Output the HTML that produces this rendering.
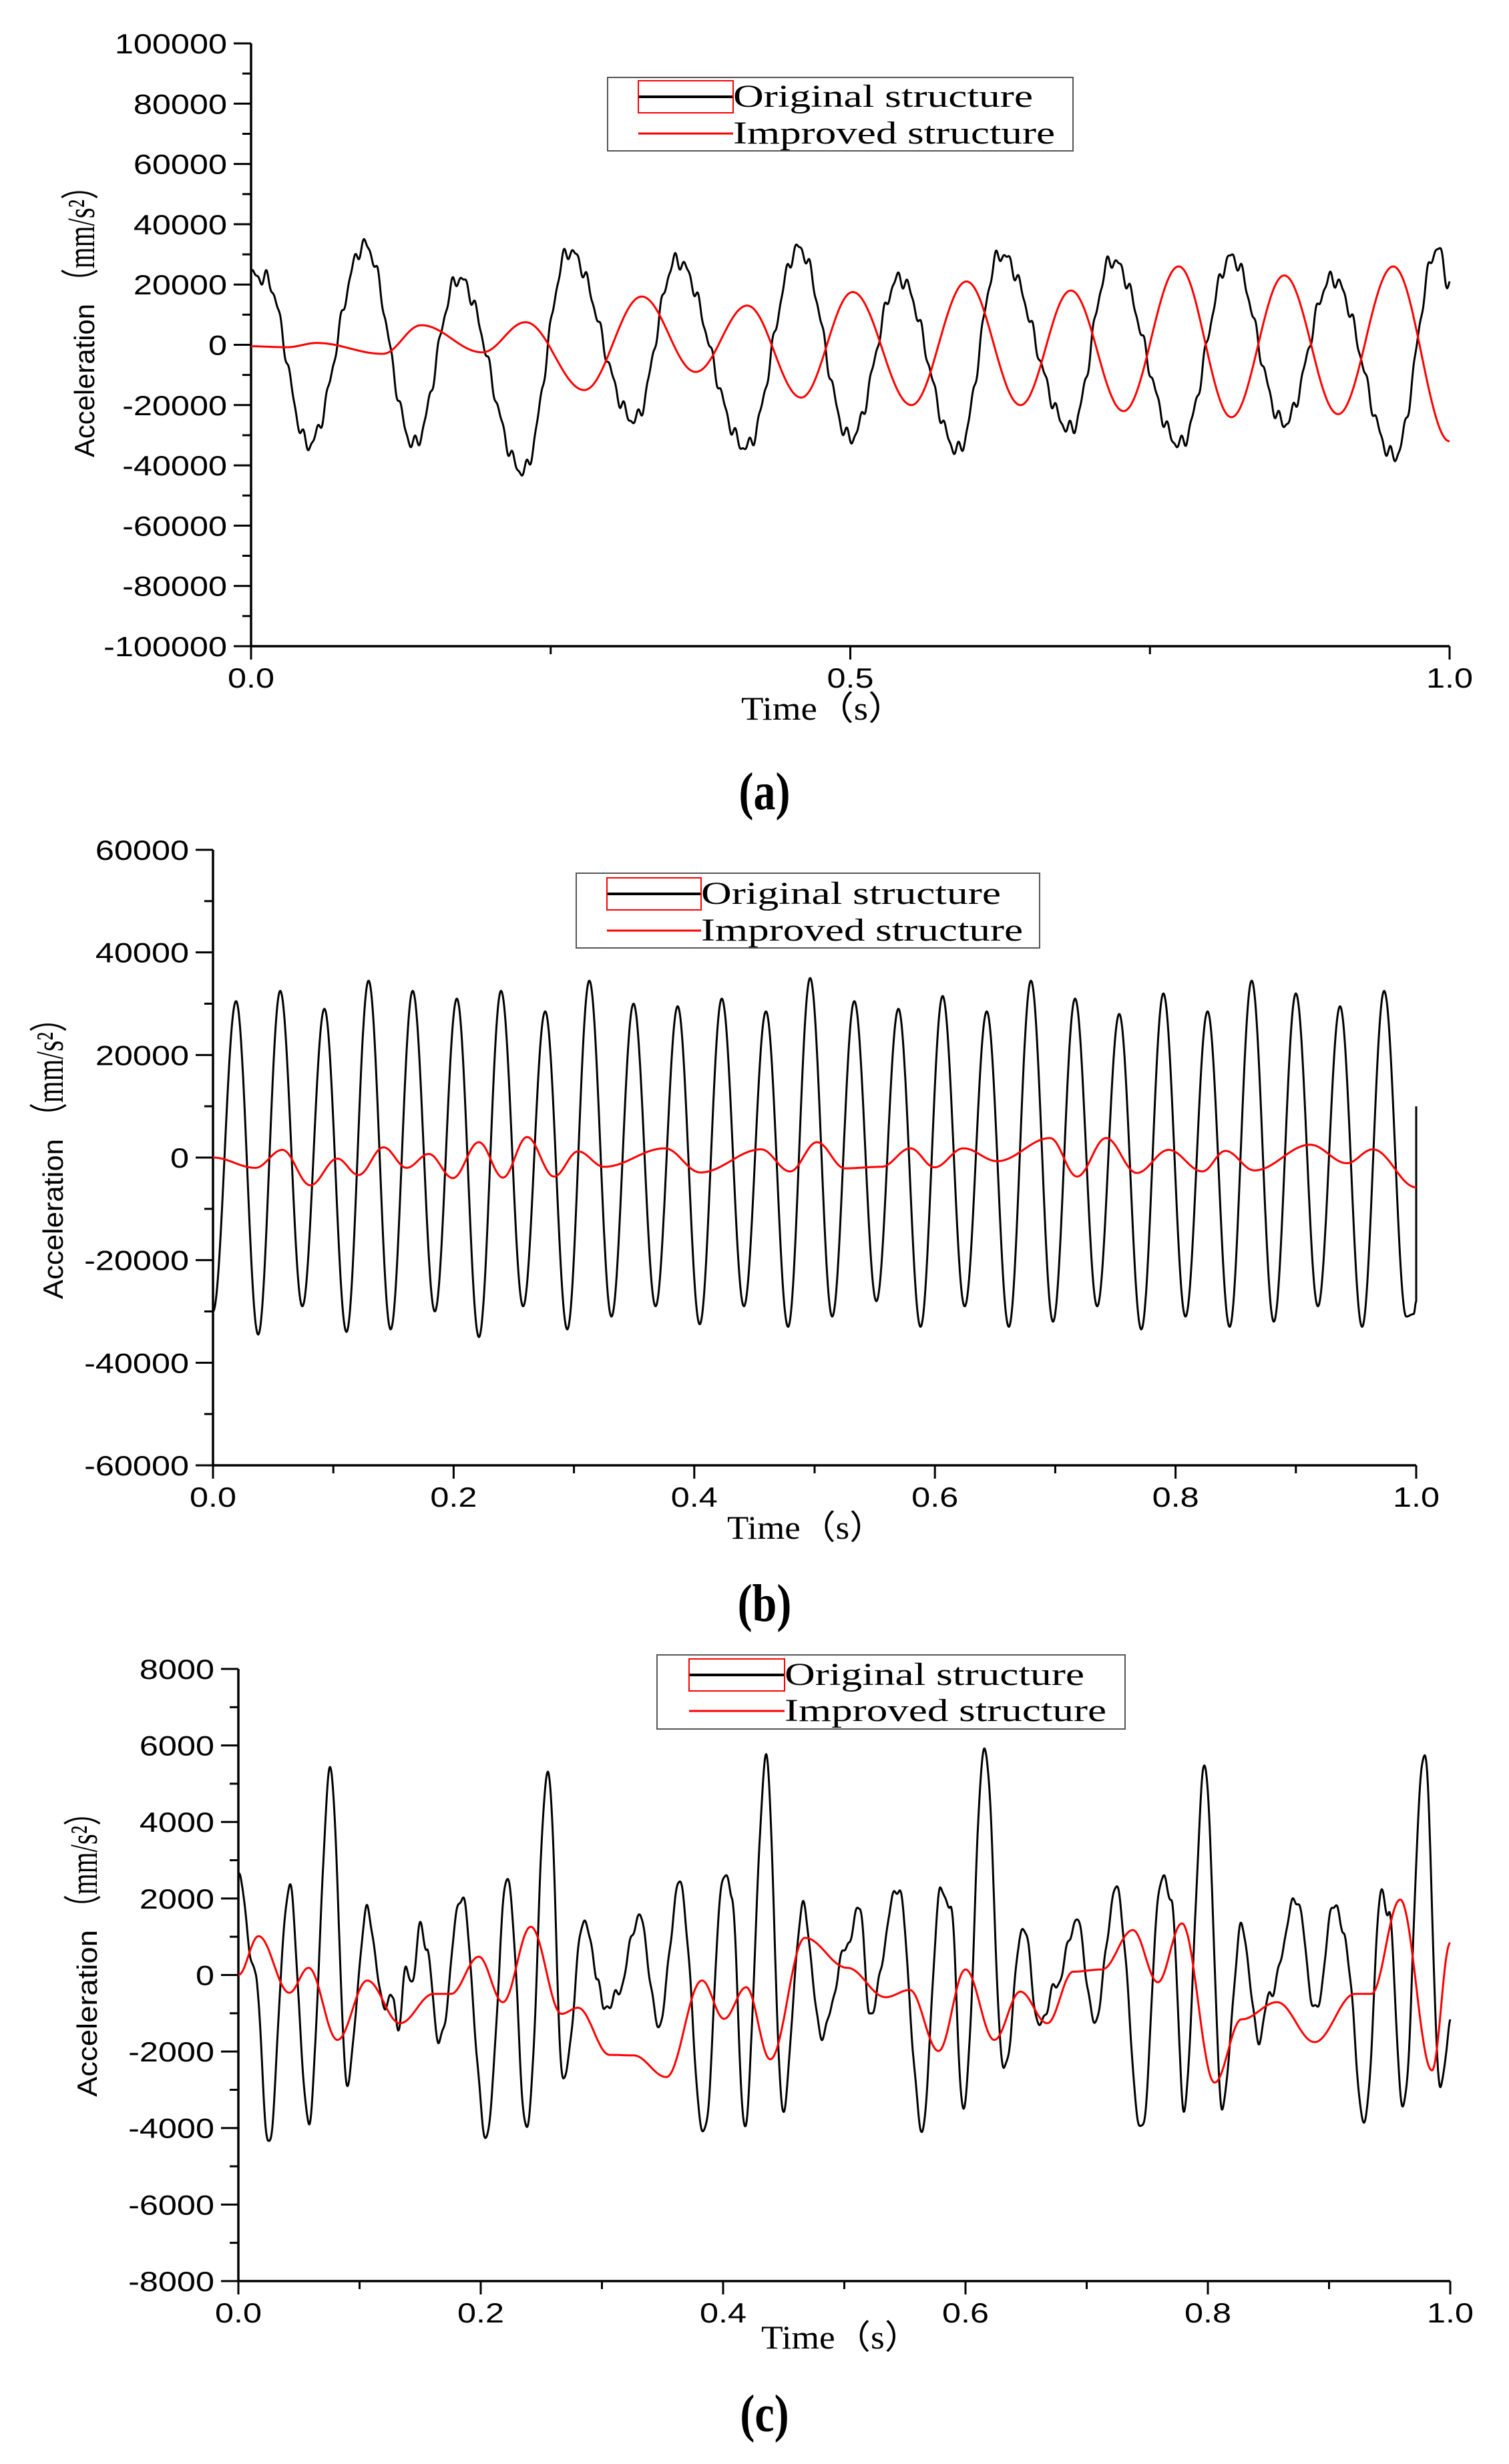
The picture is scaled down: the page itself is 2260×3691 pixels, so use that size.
<!DOCTYPE html>
<html><head><meta charset="utf-8">
<style>
html,body{margin:0;padding:0;background:#fff;}
svg{display:block;}
.tk{font-family:"Liberation Sans",sans-serif;font-size:42px;fill:#000;}
.sf{font-family:"Liberation Serif",serif;fill:#000;}
</style></head>
<body>
<svg id="s" xmlns="http://www.w3.org/2000/svg" width="2260" height="3691" viewBox="0 0 2260 3691">
<rect width="2260" height="3691" fill="#fff"/>
</svg>
<script>
var S=document.getElementById('s');var NS='http://www.w3.org/2000/svg';
function el(n,a,txt){var e=document.createElementNS(NS,n);for(var k in a)e.setAttribute(k,a[k]);if(txt!==undefined)e.textContent=txt;S.appendChild(e);return e;}
function interp(ext,t){for(var i=0;i<ext.length-1;i++){if(t<=ext[i+1][0]){var a=ext[i],b=ext[i+1];var u=(t-a[0])/(b[0]-a[0]||1);var w=(1-Math.cos(Math.PI*u))/2;return a[1]+(b[1]-a[1])*w;}}return ext[ext.length-1][1];}
function sx(x,y,f){return 'translate('+x+','+y+') scale('+f+',1) translate('+(-x)+','+(-y)+')';}
function chart(c){
 var X=function(t){return c.x0+(c.x1-c.x0)*t;};
 var Y=function(v){return c.y1-(v-c.vmin)/(c.vmax-c.vmin)*(c.y1-c.y0);};
 el('line',{x1:c.x0,y1:c.y0,x2:c.x0,y2:c.y1,stroke:'#000','stroke-width':3.5});
 el('line',{x1:c.x0,y1:c.y1,x2:c.x1,y2:c.y1,stroke:'#000','stroke-width':3.5});
 for(var v=c.vmin;v<=c.vmax+1e-6;v+=c.minor){var major=Math.abs(Math.round(v/c.major)*c.major-v)<1e-6;var y=Y(v);
  el('line',{x1:c.x0-(major?26:13),y1:y,x2:c.x0,y2:y,stroke:'#000','stroke-width':3});
  if(major){var ax=c.x0-36;el('text',{x:ax,y:y+15,'text-anchor':'end',class:'tk',transform:sx(ax,y,1.2)},String(v));}}
 for(var i=0;i<c.xt.length;i++){var t=c.xt[i][0],x=X(t);el('line',{x1:x,y1:c.y1,x2:x,y2:c.y1+(c.xt[i][1]?20:12),stroke:'#000','stroke-width':3});
  if(c.xt[i][1])el('text',{x:x,y:c.y1+62,'text-anchor':'middle',class:'tk',transform:sx(x,0,1.2)},c.xt[i][1]);}
 el('line',{x1:c.x1,y1:c.y1,x2:c.x1,y2:c.y1+20,stroke:'#000','stroke-width':3});
 function path(ext,rip,col){var d='';for(var k=0;k<=2000;k++){var t=k/2000;var v=interp(ext,t);if(rip)v+=rip*(Math.sin(2*Math.PI*97*t)+0.6*Math.sin(2*Math.PI*161*t+1.3));d+=(k?'L':'M')+X(t).toFixed(1)+' '+Y(v).toFixed(1);}
  if(c.endv!==undefined&&col=='#000')d+='L'+X(1).toFixed(1)+' '+Y(c.endv).toFixed(1);
  el('path',{d:d,fill:'none',stroke:col,'stroke-width':3,'stroke-linejoin':'round'});}
 path(c.black,c.rip,'#000');path(c.red,0,'#f00');
 var L=c.leg;el('rect',{x:L.x,y:L.y,width:L.w,height:L.h,fill:'#fff',stroke:'#555','stroke-width':2});
 el('line',{x1:L.lx0,y1:L.r1,x2:L.lx1,y2:L.r1,stroke:'#000','stroke-width':4});
 el('rect',{x:L.lx0,y:L.r1-24,width:L.lx1-L.lx0,height:48,fill:'none',stroke:'#f00','stroke-width':2});
 el('line',{x1:L.lx0,y1:L.r2,x2:L.lx1,y2:L.r2,stroke:'#f00','stroke-width':3});
 el('text',{x:L.lx1,y:L.r1+15,class:'sf','font-size':48,textLength:449,lengthAdjust:'spacingAndGlyphs'},'Original structure');
 el('text',{x:L.lx1,y:L.r2+15,class:'sf','font-size':48,textLength:482,lengthAdjust:'spacingAndGlyphs'},'Improved structure');
 el('text',{x:c.tx0,y:c.ty,class:'sf','font-size':50,textLength:c.tx1-c.tx0,lengthAdjust:'spacingAndGlyphs'},'Time（s）');
 var g=document.createElementNS(NS,'g');g.setAttribute('transform','translate('+(c.yx+18)+','+c.yb+') rotate(-90)');S.appendChild(g);
 var t1=document.createElementNS(NS,'text');t1.setAttribute('class','tk');t1.setAttribute('font-size','54');t1.setAttribute('x','0');t1.setAttribute('y','0');t1.setAttribute('textLength',c.yl1);t1.setAttribute('lengthAdjust','spacingAndGlyphs');t1.textContent='Acceleration';g.appendChild(t1);
 var t2=document.createElementNS(NS,'text');t2.setAttribute('class','sf');t2.setAttribute('font-size','58');t2.setAttribute('x',c.yl1+12);t2.setAttribute('y','0');t2.setAttribute('textLength',c.yl2);t2.setAttribute('lengthAdjust','spacingAndGlyphs');t2.textContent='（mm/s²）';g.appendChild(t2);
 el('text',{x:1145,y:c.cap,'text-anchor':'middle',class:'sf','font-size':66,'font-weight':'bold',transform:'translate(1145,'+c.cap+') scale(1,1.2) translate(-1145,'+(-c.cap)+')'},c.lab);
}
function fx(arr,x0,w,y0,ppu){return arr.map(function(p){return [(p[0]-x0)/w,(y0-p[1])*ppu];});}

chart({x0:376,x1:2171,y0:65,y1:968,vmin:-100000,vmax:100000,major:20000,minor:10000,
 xt:[[0,'0.0'],[0.25,''],[0.5,'0.5'],[0.75,''],[1,'1.0']],
 black:[[0,23000],[0.012,22000],[0.048,-33000],[0.095,33000],[0.136,-33000],[0.173,22000],[0.227,-42000],[0.265,31000],[0.32,-25000],[0.355,28000],[0.413,-34000],[0.457,32000],[0.5,-31000],[0.541,22000],[0.59,-35000],[0.625,30000],[0.684,-28000],[0.718,28000],[0.775,-33000],[0.818,29000],[0.862,-26000],[0.902,22000],[0.954,-37000],[0.99,32000],[1.0,20000]],
 rip:1800,
 red:[[0,-500],[0.03,-800],[0.055,600],[0.11,-3000],[0.142,6500],[0.193,-2500],[0.229,7500],[0.278,-15000],[0.326,16000],[0.371,-9000],[0.414,13000],[0.459,-17500],[0.502,17500],[0.551,-20000],[0.597,21000],[0.642,-20000],[0.684,18000],[0.728,-22000],[0.774,26000],[0.818,-24000],[0.862,23000],[0.907,-23000],[0.953,26000],[1.0,-32000]],
 leg:{x:910,y:116,w:697,h:110,lx0:956,lx1:1098,r1:145,r2:200},
 tx0:1110,tx1:1355,ty:1078,yx:123,yb:685,yl1:230,yl2:185,cap:1212,lab:'(a)'});

(function(){
 var pk=[30500,32500,29000,34500,32500,31000,32500,28500,34500,30000,29500,31000,28500,35000,30500,29000,31500,28500,34500,31000,28000,32000,28500,34500,32000,29500,32500];
 var tr=[-34500,-29000,-34000,-33500,-30000,-35000,-29000,-33500,-31000,-29000,-32500,-29000,-33000,-31000,-28000,-33000,-29000,-33000,-32000,-29000,-33500,-31000,-33000,-32000,-29000,-33000,-31000];
 var P=0.0367,t0=0.0192,b=[[0,-30000]];
 for(var i=0;i<27;i++){b.push([t0+i*P,pk[i]]);var tt=t0+i*P+P/2;if(tt<0.998)b.push([tt,tr[i]]);}
 b.push([0.998,-30500]);b.push([1,-28000]);
 var r=[[221,698],[265,718],[293,683],[322,752],[350,700],[372,732],[398,678],[422,718],[445,691],[470,738],[497,668],[522,737],[547,658],[575,735],[600,686],[627,716],[690,680],[727,727],[790,682],[820,725],[848,668],[877,719],[915,716],[945,680],[970,717],[1000,680],[1035,705],[1090,660],[1118,735],[1148,660],[1180,728],[1213,683],[1248,725],[1272,685],[1302,723],[1360,673],[1398,709],[1425,682],[1470,756]];
 chart({x0:319,x1:2121,y0:1273,y1:2195,vmin:-60000,vmax:60000,major:20000,minor:10000,
 xt:[[0,'0.0'],[0.1,''],[0.2,'0.2'],[0.3,''],[0.4,'0.4'],[0.5,''],[0.6,'0.6'],[0.7,''],[0.8,'0.8'],[0.9,''],[1,'1.0']],
 black:b,rip:0,endv:10000,red:fx(r,221,1249,698,100),
 leg:{x:863,y:1308,w:694,h:112,lx0:909,lx1:1050,r1:1339,r2:1394},
 tx0:1089,tx1:1325,ty:2305,yx:76,yb:1946,yl1:240,yl2:190,cap:2428,lab:'(b)'});
})();

(function(){
 var b=[[247,500],[265,680],[278,985],[300,520],[320,940],[343,310],[360,868],[381,562],[398,730],[408,720],[413,773],[422,665],[428,690],[437,580],[443,640],[456,800],[479,535],[505,968],[527,502],[547,955],[569,308],[585,868],[607,577],[620,676],[627,742],[640,715],[664,573],[684,768],[706,512],[731,966],[752,493],[760,535],[773,950],[796,290],[813,918],[834,555],[853,785],[882,618],[893,548],[903,748],[933,520],[958,955],[977,527],[987,550],[1001,920],[1023,266],[1043,850],[1063,590],[1080,770],[1096,700],[1119,580],[1137,762],[1160,522],[1186,960],[1207,500],[1217,540],[1230,915],[1252,304],[1270,912],[1290,592],[1308,793],[1320,710],[1347,540],[1367,743],[1387,545],[1396,605],[1418,945],[1436,525],[1443,570],[1458,920],[1480,275],[1497,885],[1507,762]];
 var r=[[247,678],[268,608],[300,710],[320,665],[350,795],[381,688],[415,765],[450,712],[468,712],[497,645],[522,727],[551,591],[583,748],[600,737],[633,822],[658,823],[692,862],[729,688],[752,757],[775,700],[800,830],[836,611],[880,665],[920,718],[945,705],[975,815],[1003,668],[1033,795],[1060,708],[1088,765],[1115,672],[1145,668],[1177,597],[1203,691],[1228,585],[1262,872],[1290,758],[1327,727],[1366,799],[1408,712],[1425,712],[1455,542],[1488,850],[1507,620]];
 chart({x0:357,x1:2172,y0:2500,y1:3417,vmin:-8000,vmax:8000,major:2000,minor:1000,
 xt:[[0,'0.0'],[0.1,''],[0.2,'0.2'],[0.3,''],[0.4,'0.4'],[0.5,''],[0.6,'0.6'],[0.7,''],[0.8,'0.8'],[0.9,''],[1,'1.0']],
 black:fx(b,247,1260,678,1000/69),rip:100,red:fx(r,247,1260,678,1000/69),
 leg:{x:984,y:2479,w:701,h:111,lx0:1032,lx1:1175,r1:2509,r2:2563},
 tx0:1140,tx1:1378,ty:3518,yx:127,yb:3141,yl1:250,yl2:185,cap:3642,lab:'(c)'});
})();
</script>
</body></html>
